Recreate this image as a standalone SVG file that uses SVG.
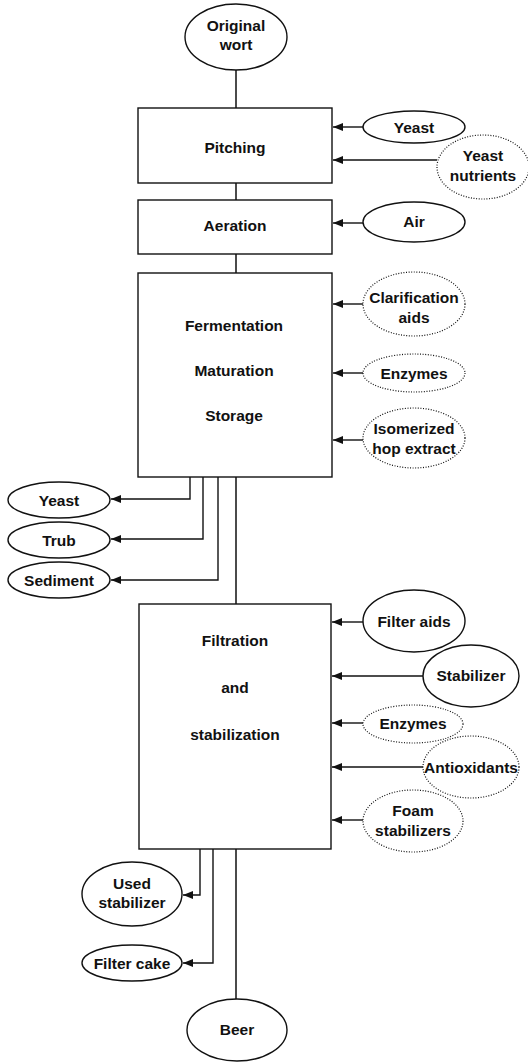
<svg xmlns="http://www.w3.org/2000/svg" width="528" height="1062" viewBox="0 0 528 1062">
<style>
text{font-family:"Liberation Sans",Arial,sans-serif;font-weight:bold;font-size:15.5px;fill:#111;text-anchor:middle}
.n{fill:#fff;stroke:#111;stroke-width:1.4}
.d{fill:#fff;stroke:#111;stroke-width:1.2;stroke-dasharray:1 1.6}
.c{fill:none;stroke:#111;stroke-width:1.5}
.a{fill:none;stroke:#111;stroke-width:1.4;marker-end:url(#ah)}
</style>
<defs>
<marker id="ah" viewBox="0 0 10 8" refX="10" refY="4" markerWidth="10" markerHeight="8" markerUnits="userSpaceOnUse" orient="auto">
<path d="M0,0 L10,4 L0,8 Z" fill="#111"/>
</marker>
</defs>
<rect width="528" height="1062" fill="#fff"/>
<g id="connectors">
<path class="c" d="M236,70 V108 M236,183 V200 M236,254 V273 M236,477 V604 M236,849 V999"/>
<path class="a" d="M363,127 H333"/>
<path class="a" d="M437,160 H333"/>
<path class="a" d="M363,223 H333"/>
<path class="a" d="M363,304 H333"/>
<path class="a" d="M363,373 H333"/>
<path class="a" d="M363,440 H333"/>
<path class="a" d="M190,477 V499 H111"/>
<path class="a" d="M203,477 V539 H111"/>
<path class="a" d="M218,477 V580 H111"/>
<path class="a" d="M363,622 H332"/>
<path class="a" d="M423,676 H332"/>
<path class="a" d="M363,723 H332"/>
<path class="a" d="M423,767 H332"/>
<path class="a" d="M363,820 H332"/>
<path class="a" d="M200,849 V895 H183"/>
<path class="a" d="M213,849 V963 H183"/>
</g>
<g id="original-wort"><ellipse class="n" cx="236" cy="37" rx="51" ry="33"/><text x="236" y="31">Original</text><text x="236" y="50">wort</text></g>
<g id="pitching"><rect class="n" x="138" y="108" width="194" height="75"/><text x="235" y="153">Pitching</text></g>
<g id="yeast-in"><ellipse class="n" cx="414" cy="127" rx="51" ry="16"/><text x="414" y="133">Yeast</text></g>
<g id="yeast-nutrients"><ellipse class="d" cx="483" cy="167" rx="46" ry="32"/><text x="483" y="161">Yeast</text><text x="483" y="181">nutrients</text></g>
<g id="aeration"><rect class="n" x="138" y="200" width="194" height="54"/><text x="235" y="231">Aeration</text></g>
<g id="air"><ellipse class="n" cx="414" cy="222" rx="51" ry="20"/><text x="414" y="227">Air</text></g>
<g id="fermentation"><rect class="n" x="138" y="273" width="194" height="204"/><text x="234" y="331">Fermentation</text><text x="234" y="376">Maturation</text><text x="234" y="421">Storage</text></g>
<g id="clarification-aids"><ellipse class="d" cx="414" cy="304" rx="51" ry="32"/><text x="414" y="303">Clarification</text><text x="414" y="323">aids</text></g>
<g id="enzymes-1"><ellipse class="d" cx="414" cy="373" rx="51" ry="19"/><text x="414" y="379">Enzymes</text></g>
<g id="hop-extract"><ellipse class="d" cx="414" cy="438" rx="51" ry="30"/><text x="414" y="434">Isomerized</text><text x="414" y="454">hop extract</text></g>
<g id="yeast-out"><ellipse class="n" cx="59" cy="500" rx="51" ry="18"/><text x="59" y="506">Yeast</text></g>
<g id="trub"><ellipse class="n" cx="59" cy="540" rx="51" ry="18"/><text x="59" y="546">Trub</text></g>
<g id="sediment"><ellipse class="n" cx="59" cy="580" rx="51" ry="18"/><text x="59" y="586">Sediment</text></g>
<g id="filtration"><rect class="n" x="139" y="604" width="192" height="245"/><text x="235" y="646">Filtration</text><text x="235" y="693">and</text><text x="235" y="740">stabilization</text></g>
<g id="filter-aids"><ellipse class="n" cx="414" cy="621" rx="51" ry="31"/><text x="414" y="627">Filter aids</text></g>
<g id="stabilizer"><ellipse class="n" cx="471" cy="676" rx="48" ry="31"/><text x="471" y="681">Stabilizer</text></g>
<g id="enzymes-2"><ellipse class="d" cx="413" cy="724" rx="50" ry="19"/><text x="413" y="729">Enzymes</text></g>
<g id="antioxidants"><ellipse class="d" cx="471" cy="767" rx="48" ry="31"/><text x="471" y="773">Antioxidants</text></g>
<g id="foam-stabilizers"><ellipse class="d" cx="413" cy="821" rx="50" ry="31"/><text x="413" y="816">Foam</text><text x="413" y="836">stabilizers</text></g>
<g id="used-stabilizer"><ellipse class="n" cx="132" cy="894" rx="50" ry="32"/><text x="132" y="889">Used</text><text x="132" y="908">stabilizer</text></g>
<g id="filter-cake"><ellipse class="n" cx="132" cy="963" rx="50" ry="18"/><text x="132" y="969">Filter cake</text></g>
<g id="beer"><ellipse class="n" cx="237" cy="1030" rx="50" ry="31"/><text x="237" y="1035">Beer</text></g>
</svg>
